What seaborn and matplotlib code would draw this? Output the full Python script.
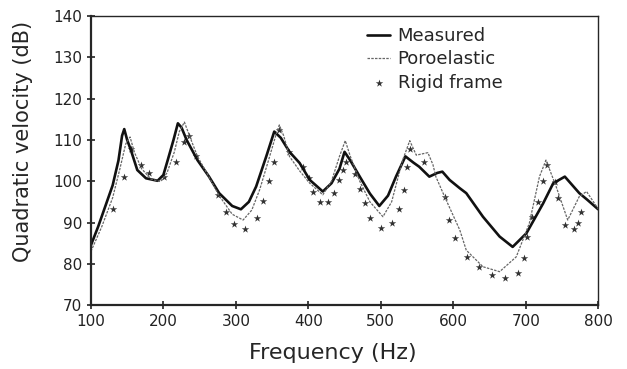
import matplotlib
matplotlib.use("Agg")
import matplotlib.pyplot as plt
import seaborn as sns
import pandas as pd

# Measured
meas_f = [100, 110, 118, 130, 138, 143, 146, 150, 155, 164, 176, 192, 200, 206, 214, 220, 225, 232,
          247, 263, 277, 295, 307, 318, 328, 342, 353, 362, 374, 388, 402, 420, 432, 443, 450, 458,
          471, 485, 498, 510, 521, 534, 545, 553, 567, 578, 585, 595, 609, 618, 641, 664, 682, 701,
          724, 738, 754, 774, 785, 800]
meas_db = [84.5, 89, 93, 99, 105, 111, 112.6, 110, 107.6, 102.7, 100.7, 100.1, 101.5, 105.1, 110, 114,
           113, 110, 105.1, 101.1, 97.1, 94, 93.2, 95, 98.7, 106, 112, 110.5, 107.1, 104.4, 100.3,
           97.5, 99.5, 103, 107.1, 105, 101.1, 97, 94, 96.5, 101.1, 106, 104.5, 103.5, 101.1, 102,
           102.3, 100.3, 98.3, 97.1, 91.4, 86.6, 84.1, 87.4, 94.6, 99.5, 101.1, 97.1, 95.5, 93.2]

# Poroelastic
poro_f = [100, 115, 130, 140, 148, 154, 160, 170, 183, 196, 205, 215, 222, 229, 236, 247, 263, 277,
          295, 310, 322, 333, 345, 355, 360, 366, 374, 388, 402, 420, 432, 443, 451, 458, 471, 485,
          503, 515, 521, 530, 540, 549, 565, 572, 576, 588, 609, 618, 641, 664, 687, 705, 719, 728,
          742, 758, 774, 784, 800]
poro_db = [83, 89, 96, 103, 109, 110.7, 107, 103, 100.5, 99.9, 102, 107, 112, 114.3, 111, 106, 101,
           96.5, 92, 90.6, 93, 98, 105, 111, 113.6, 111, 106, 102.5, 99.5, 96.7, 100, 106, 109.8,
           106, 100, 95, 91.4, 95, 99, 105, 109.8, 106.3, 106.9, 104, 101.1, 96.3, 88.2, 83.3, 79.3,
           78.1, 81.7, 89.8, 101.1, 105.1, 98.7, 90.6, 96.3, 97.5, 93.3]

# Rigid frame
rig_f = [130, 146, 156, 169, 180, 201, 217, 229, 236, 245, 275, 287, 298, 313, 329, 338, 346, 353,
         360, 374, 392, 401, 406, 416, 427, 436, 443, 448, 452, 465, 471, 478, 485, 500, 515, 525,
         532, 536, 540, 559, 588, 594, 602, 619, 635, 653, 672, 689, 697, 702, 709, 717, 724, 729,
         740, 745, 754, 766, 772, 777]
rig_db = [93.2, 101.1, 107.7, 103.9, 101.9, 101.1, 104.7, 109.6, 111, 106, 96.7, 92.6, 89.6, 88.4,
          91, 95.3, 100.1, 104.7, 112.4, 107.1, 103.5, 100.7, 97.5, 95, 95, 97.1, 100.3, 102.7,
          104.6, 101.7, 98.1, 94.6, 91.2, 88.6, 90, 93.3, 97.9, 103.4, 107.7, 104.7, 96.1, 90.6,
          86.2, 81.7, 79.2, 77.3, 76.6, 77.7, 81.3, 86.6, 91.3, 95, 100, 103.9, 99.9, 95.9, 89.4,
          88.4, 90, 92.6]

x_ticks = [100, 200, 300, 400, 500, 600, 700, 800]
y_ticks = [70, 80, 90, 100, 110, 120, 130, 140]

sns.set_style("ticks")
plt.rcParams['font.family'] = ['DejaVu Sans']

fig = plt.figure(figsize=(6.27, 3.69), dpi=100)
ax = fig.add_axes([0.145, 0.173, 0.809, 0.784])

dm = pd.DataFrame({"f": meas_f, "db": meas_db})
dp = pd.DataFrame({"f": poro_f, "db": poro_db})
dr = pd.DataFrame({"f": rig_f, "db": rig_db})

sns.lineplot(data=dm, x="f", y="db", ax=ax, color="#111111", linewidth=1.9, label="Measured")
sns.lineplot(data=dp, x="f", y="db", ax=ax, color="#666666", linewidth=0.9, linestyle=(0, (2, 1)),
             label="Poroelastic")
sns.scatterplot(data=dr, x="f", y="db", ax=ax, color="#333333", marker="*", s=32, linewidth=0,
                label="Rigid frame")

ax.set_xlim(100, 800)
ax.set_ylim(70, 140)
ax.set_xticks(x_ticks)
ax.set_yticks(y_ticks)
ax.tick_params(direction="inout", length=6, width=1.2, labelsize=11, colors="#222222")
for s in ["left", "bottom"]:
    ax.spines[s].set_linewidth(1.6)
for s in ["top", "right"]:
    ax.spines[s].set_linewidth(1.0)
    ax.spines[s].set_visible(True)
ax.set_xlabel("Frequency (Hz)", fontsize=16)
ax.set_ylabel("Quadratic velocity (dB)", fontsize=15)
ax.xaxis.set_label_coords(0.477, -0.132)
ax.yaxis.set_label_coords(-0.114, 0.567)

leg = ax.legend(loc="upper left", bbox_to_anchor=(0.544, 0.962), frameon=False, fontsize=13,
                handlelength=1.3, handletextpad=0.4, labelspacing=0.3, borderaxespad=0,
                borderpad=0)

fig.savefig("out.png", dpi=100)
